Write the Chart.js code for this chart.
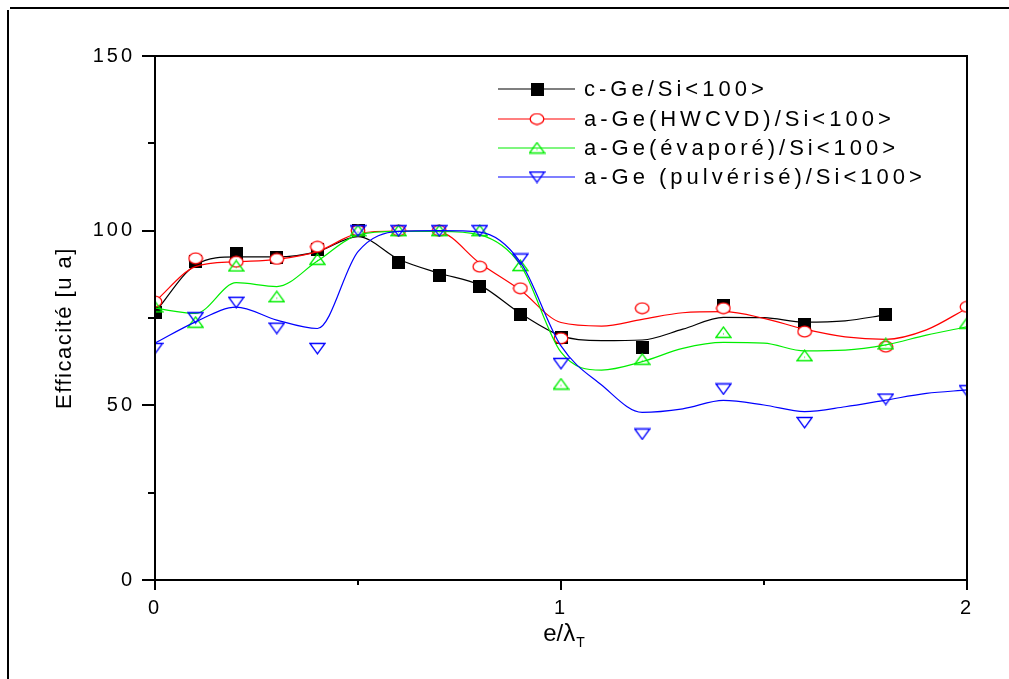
<!DOCTYPE html>
<html>
<head>
<meta charset="utf-8">
<script src="https://cdn.jsdelivr.net/npm/chart.js@4.4.1/dist/chart.umd.min.js"></script>
<style>
  html, body { margin: 0; padding: 0; background: #fff; }
  #wrap { width: 1009px; height: 679px; position: relative; }
</style>
</head>
<body>
<div id="wrap"><canvas id="c" width="1009" height="679"></canvas></div>
<script>
// Measured points: efficiency versus normalised thickness e/λT
const xPoints = [0, 0.1, 0.2, 0.3, 0.4, 0.5, 0.6, 0.7, 0.8, 0.9, 1.0, 1.2, 1.4, 1.6, 1.8, 2.0];
const cGe      = [76.6, 91.1, 93.5, 92.3, 94.5, 100, 90.8, 87.3, 84.0, 75.9, 69.5, 66.6, 78.7, 73.0, 75.9, null];
const aGeHWCVD = [79.7, 92.1, 91.1, 91.9, 95.4, 100, 100, 100, 89.7, 83.5, 69.2, 77.8, 77.8, 71.1, 66.8, 78.2];
const aGeEvap  = [78.2, 73.8, 89.9, 81.1, 91.8, 100, 100, 100, 100, 90.0, 56.1, 63.2, 70.9, 64.2, 67.6, 73.5];
const aGePulv  = [66.3, 75.1, 79.5, 72.1, 66.3, 100, 100, 100, 100, 91.9, 62.0, 41.8, 54.7, 45.1, 51.8, 54.2];

// Smoothed (B-spline) trend curves, sampled every 0.1
const xCurve = [0, 0.1, 0.2, 0.3, 0.4, 0.5, 0.6, 0.7, 0.8, 0.9, 1.0, 1.1, 1.2, 1.3, 1.4, 1.5, 1.6, 1.7, 1.8, 1.9, 2.0];
const cGeFit      = [76.6, 90.2, 92.5, 92.5, 94.0, 98.3, 91.8, 87.8, 84.4, 76.3, 69.9, 68.5, 68.7, 71.8, 75.2, 75.1, 73.8, 74.2, 75.9];
const aGeHWCVDFit = [79.7, 89.7, 91.1, 91.8, 94.0, 99.2, 99.9, 99.6, 90.7, 83.0, 73.7, 72.7, 74.6, 76.5, 76.8, 74.9, 71.8, 69.6, 68.9, 71.6, 77.8];
const aGeEvapFit  = [77.8, 76.3, 85.1, 84.0, 91.3, 98.8, 99.8, 99.8, 98.8, 90.2, 65.2, 60.1, 62.5, 66.3, 68.0, 67.8, 65.6, 65.8, 67.3, 70.1, 72.5];
const aGePulvFit  = [67.8, 73.9, 78.1, 74.4, 72.0, 94.0, 99.8, 100, 99.6, 91.0, 67.0, 55.8, 48.0, 49.0, 51.4, 50.1, 48.2, 49.6, 51.5, 53.4, 54.4];

const seriesLabels = ['c-Ge/Si<100>', 'a-Ge(HWCVD)/Si<100>', 'a-Ge(évaporé)/Si<100>', 'a-Ge (pulvérisé)/Si<100>'];
const seriesColors = ['#000000', '#ff0000', '#00ee00', '#0000ff'];

const yTicksLabelled = [0, 50, 100, 150];
const xTicksLabelled = [0, 1, 2];

const FONT = '"Liberation Sans", Arial, sans-serif';

// ---- marker sprites ----
function sprite(w, h, draw) {
  const c = document.createElement('canvas');
  c.width = w; c.height = h;
  draw(c.getContext('2d'), w, h);
  return c;
}
const squareMarker = sprite(13, 13, (g) => {
  g.fillStyle = '#000';
  g.fillRect(0, 0, 13, 13);
});
const circleMarker = sprite(16, 13, (g) => {
  g.lineWidth = 1.3;
  g.strokeStyle = '#ff0000';
  g.fillStyle = '#ffffff';
  g.beginPath();
  g.ellipse(8, 6.5, 6.8, 5.4, 0, 0, Math.PI * 2);
  g.fill();
  g.stroke();
});
const upTriangle = sprite(17, 13, (g) => {
  g.lineWidth = 1.3;
  g.strokeStyle = '#00ee00';
  g.beginPath();
  g.moveTo(1, 11.5); g.lineTo(8.5, 1.2); g.lineTo(16, 11.5); g.closePath();
  g.stroke();
  g.fillStyle = '#00ee00';
  g.fillRect(8, 7.5, 1, 1);
});
const downTriangle = sprite(17, 13, (g) => {
  g.lineWidth = 1.3;
  g.strokeStyle = '#0000ff';
  g.beginPath();
  g.moveTo(1, 1.5); g.lineTo(16, 1.5); g.lineTo(8.5, 11.8); g.closePath();
  g.stroke();
});
const markers = [squareMarker, circleMarker, upTriangle, downTriangle];

function pairs(xs, ys) {
  const out = [];
  ys.forEach((y, i) => { if (y !== null && y !== undefined) out.push({ x: xs[i], y }); });
  return out;
}

const pointSets = [cGe, aGeHWCVD, aGeEvap, aGePulv];
const curveSets = [cGeFit, aGeHWCVDFit, aGeEvapFit, aGePulvFit];

const datasets = [];
for (let i = 0; i < 4; i++) {
  datasets.push({
    label: seriesLabels[i] + ' (lissage)',
    data: pairs(xCurve, curveSets[i]),
    showLine: true,
    borderColor: seriesColors[i],
    borderWidth: 1.2,
    pointRadius: 0,
    cubicInterpolationMode: 'monotone',
    fill: false,
    clip: 0,
    order: 10 - 2 * i
  });
  datasets.push({
    label: seriesLabels[i],
    data: pairs(xPoints, pointSets[i]),
    showLine: false,
    pointStyle: markers[i],
    pointRadius: 7,
    clip: 0,
    order: 9 - 2 * i
  });
}

// Box, tick marks, axis titles, legend and page frame
const decorations = {
  id: 'decorations',
  beforeDraw(chart) {
    chart.ctx.letterSpacing = '3px';
  },
  afterDraw(chart) {
    const ctx = chart.ctx;
    const { left, right, top, bottom } = chart.chartArea;
    const xs = chart.scales.x, ys = chart.scales.y;
    ctx.save();
    ctx.letterSpacing = '0px';
    ctx.strokeStyle = '#000';
    ctx.lineWidth = 2;
    ctx.strokeRect(left, top, right - left, bottom - top);

    // y ticks (outward), major every 50, minor every 25
    ctx.beginPath();
    ys.ticks.forEach(t => {
      const y = Math.round(ys.getPixelForValue(t.value));
      const len = (t.value % 50 === 0) ? 13 : 7;
      ctx.moveTo(left - len, y); ctx.lineTo(left, y);
    });
    // x ticks (outward), major every 1, minor every 0.5
    xs.ticks.forEach(t => {
      const x = Math.round(xs.getPixelForValue(t.value));
      const len = (Math.abs(t.value - Math.round(t.value)) < 1e-9) ? 10 : 5;
      ctx.moveTo(x, bottom); ctx.lineTo(x, bottom + len);
    });
    ctx.stroke();

    // axis titles
    ctx.fillStyle = '#000';
    ctx.save();
    ctx.translate(65, 328);
    ctx.rotate(-Math.PI / 2);
    ctx.font = '22px ' + FONT;
    ctx.letterSpacing = '1.5px';
    ctx.textAlign = 'center';
    ctx.textBaseline = 'middle';
    ctx.fillText('Efficacité [u a]', 0, 0);
    ctx.restore();

    ctx.save();
    ctx.textBaseline = 'middle';
    const main = 'e/λ';
    ctx.font = '24px ' + FONT;
    const wMain = ctx.measureText(main).width;
    ctx.font = '14px ' + FONT;
    const wSub = ctx.measureText('T').width;
    const startX = 564 - (wMain + wSub + 1) / 2;
    ctx.font = '24px ' + FONT;
    ctx.textAlign = 'left';
    ctx.fillText(main, startX, 634);
    ctx.font = '14px ' + FONT;
    ctx.fillText('T', startX + wMain + 1, 643);
    ctx.restore();

    // legend
    const rowsY = [89, 119, 148, 177];
    ctx.save();
    for (let i = 0; i < 4; i++) {
      const y = rowsY[i];
      ctx.strokeStyle = seriesColors[i];
      ctx.lineWidth = 1.2;
      ctx.beginPath();
      ctx.moveTo(498, y); ctx.lineTo(575, y);
      ctx.stroke();
      const m = markers[i];
      ctx.drawImage(m, 537 - m.width / 2, y - m.height / 2);
      ctx.fillStyle = '#000';
      ctx.font = '22px ' + FONT;
      ctx.letterSpacing = '4px';
      ctx.textAlign = 'left';
      ctx.textBaseline = 'middle';
      ctx.fillText(seriesLabels[i], 584, y + 1);
    }
    ctx.restore();

    // page frame
    ctx.strokeStyle = '#000';
    ctx.lineWidth = 2;
    ctx.beginPath();
    ctx.moveTo(10, 8); ctx.lineTo(1009, 8);
    ctx.moveTo(8, 10); ctx.lineTo(8, 679);
    ctx.stroke();
    ctx.restore();
  }
};

new Chart(document.getElementById('c'), {
  type: 'scatter',
  data: { datasets },
  options: {
    responsive: false,
    animation: false,
    devicePixelRatio: 1,
    layout: { padding: { top: 56, right: 42, left: 0, bottom: 0 } },
    plugins: { legend: { display: false }, tooltip: { enabled: false } },
    scales: {
      x: {
        type: 'linear',
        min: 0, max: 2,
        grid: { display: false, drawTicks: false },
        border: { display: false },
        ticks: {
          stepSize: 0.5,
          padding: 16,
          color: '#000',
          font: { family: FONT, size: 20 },
          maxRotation: 0,
          callback: (v) => xTicksLabelled.includes(v) ? String(v) : ''
        },
        afterFit: (s) => { s.height = 99; }
      },
      y: {
        type: 'linear',
        min: 0, max: 150,
        grid: { display: false, drawTicks: false },
        border: { display: false },
        ticks: {
          stepSize: 25,
          padding: 20,
          color: '#000',
          font: { family: FONT, size: 20 },
          callback: (v) => yTicksLabelled.includes(v) ? String(v) : ''
        },
        afterFit: (s) => { s.width = 155; }
      }
    }
  },
  plugins: [decorations]
});
</script>
</body>
</html>
